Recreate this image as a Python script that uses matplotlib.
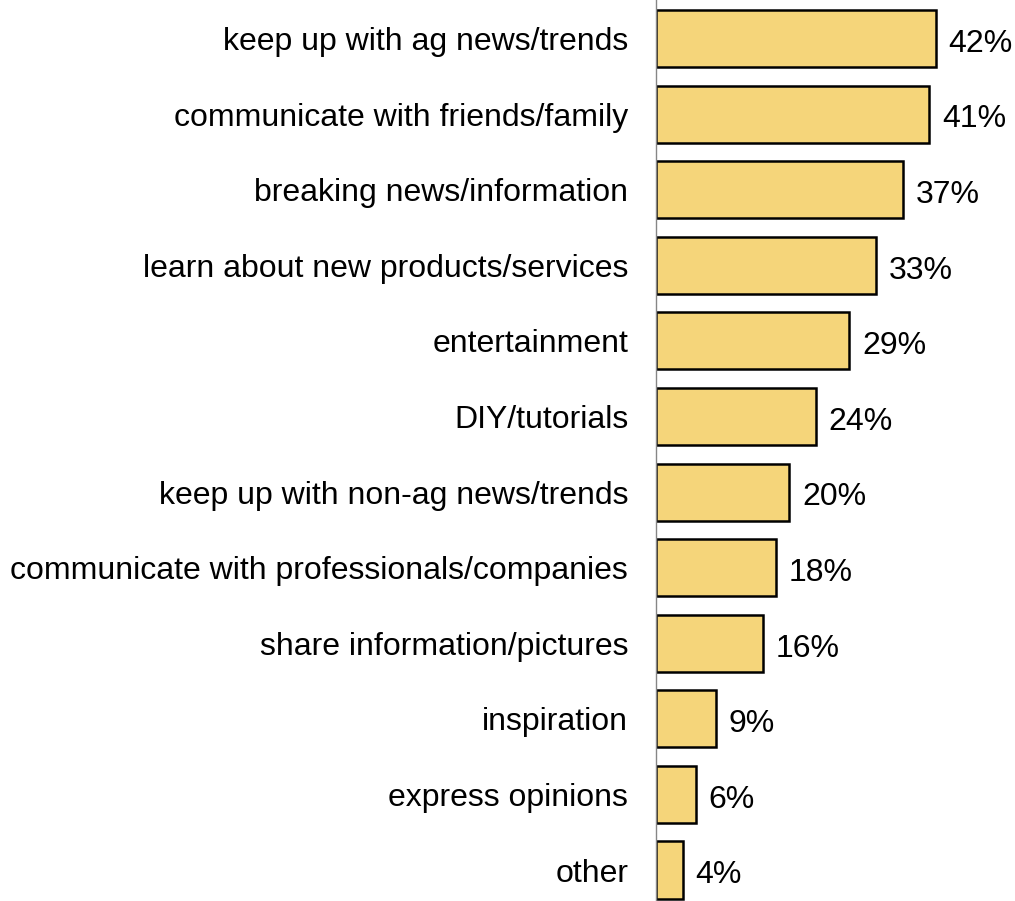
import matplotlib
matplotlib.use("Agg")
import matplotlib.pyplot as plt

plt.rcParams['font.family'] = ['Liberation Sans', 'DejaVu Sans']

categories = [
    "keep up with ag news/trends",
    "communicate with friends/family",
    "breaking news/information",
    "learn about new products/services",
    "entertainment",
    "DIY/tutorials",
    "keep up with non-ag news/trends",
    "communicate with professionals/companies",
    "share information/pictures",
    "inspiration",
    "express opinions",
    "other",
]
values = [42, 41, 37, 33, 29, 24, 20, 18, 16, 9, 6, 4]

fig = plt.figure(figsize=(10.15, 9.01), dpi=100)
ax = fig.add_axes([656 / 1015, 0, 1 - 656 / 1015, 1])

pos = list(range(len(categories)))
ax.barh(pos, values, height=0.755, color="#F5D57A", edgecolor="black", linewidth=1.8)

for p, v in zip(pos, values):
    ax.text(v + 1.9, p + 0.07, f"{v}%", va="center", ha="left", fontsize=23)

ax.set_xlim(0, (1015 - 656) / (280 / 42))
ax.set_ylim(11.41, -0.51)
ax.set_yticks(pos)
ax.set_yticklabels(categories, fontsize=23)
ax.tick_params(axis="y", length=0, pad=20)
ax.set_xticks([])
for s in ["top", "right", "bottom"]:
    ax.spines[s].set_visible(False)
ax.spines["left"].set_color("#868686")
ax.spines["left"].set_linewidth(1.0)

fig.savefig("out.png", dpi=100)
